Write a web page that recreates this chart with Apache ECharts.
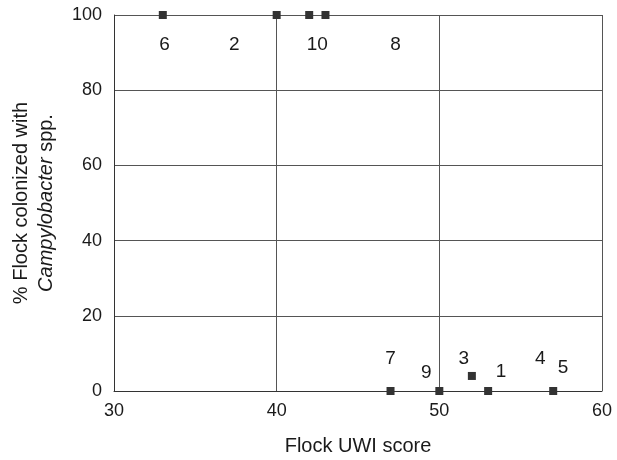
<!DOCTYPE html>
<html>
<head>
<meta charset="utf-8">
<script src="https://cdn.jsdelivr.net/npm/echarts@6/dist/echarts.min.js"></script>
<style>
  html, body { margin: 0; padding: 0; background: #fff; }
  #chart { width: 617px; height: 460px; }
</style>
</head>
<body>
<div id="chart"></div>
<script>
// flock UWI score vs % colonized
var uwiScore = [33, 40, 42, 43, 47, 50, 52, 53, 57];
var colonized = [100, 100, 100, 100, 0, 0, 4, 0, 0];

// flock number labels: [x, y, text] in data units
var flockLabels = [
  [33.1, 92, '6'], [37.4, 92, '2'], [42.5, 92, '10'], [47.3, 92, '8'],
  [47.0, 8.5, '7'], [49.2, 4.8, '9'], [51.5, 8.5, '3'], [53.8, 5, '1'],
  [56.2, 8.5, '4'], [57.6, 6.1, '5']
];

var xTicks = [30, 40, 50, 60];
var yTicks = [0, 20, 40, 60, 80, 100];

(function(){
  var myChart = echarts.init(document.getElementById('chart'));
  var font = '"Liberation Sans", Arial, sans-serif';
  var points = uwiScore.map(function (x, i) { return [x, colonized[i]]; });
  var option = {
    animation: false,
    textStyle: { fontFamily: font },
    grid: { left: 114, right: 15, top: 15, bottom: 69, outerBoundsMode: 'none' },
    xAxis: {
      type: 'value',
      min: xTicks[0],
      max: xTicks[xTicks.length - 1],
      interval: 10,
      name: 'Flock UWI score',
      nameLocation: 'middle',
      nameGap: 45,
      nameTextStyle: { fontSize: 20, color: '#1a1a1a', fontFamily: font },
      axisLine: { show: true, lineStyle: { color: '#333', width: 1 } },
      axisTick: { show: false },
      axisLabel: { fontSize: 18, color: '#1a1a1a', margin: 11, fontFamily: font },
      splitLine: { show: true, lineStyle: { color: '#555', width: 1 } }
    },
    yAxis: {
      type: 'value',
      min: yTicks[0],
      max: yTicks[yTicks.length - 1],
      interval: 20,
      name: '{a|% Flock colonized with}\n{i|Campylobacter}{a| spp.}',
      nameLocation: 'middle',
      nameRotate: 90,
      nameGap: 55,
      nameTextStyle: {
        fontFamily: font,
        rich: {
          a: { fontSize: 20, color: '#1a1a1a', lineHeight: 25, fontFamily: font },
          i: { fontSize: 20, color: '#1a1a1a', lineHeight: 25, fontStyle: 'italic', fontFamily: font }
        }
      },
      axisLine: { show: true, lineStyle: { color: '#333', width: 1 } },
      axisTick: { show: false },
      axisLabel: { fontSize: 18, color: '#1a1a1a', margin: 12, fontFamily: font },
      splitLine: { show: true, lineStyle: { color: '#555', width: 1 } }
    },
    series: [
      {
        type: 'scatter',
        data: points,
        symbol: 'rect',
        symbolSize: 8,
        itemStyle: { color: '#333', opacity: 1 },
        clip: false,
        z: 3
      },
      {
        type: 'scatter',
        data: flockLabels.map(function (d) { return { value: [d[0], d[1]], name: d[2] }; }),
        symbolSize: 0,
        silent: true,
        itemStyle: { opacity: 1 },
        label: {
          show: true,
          position: 'inside',
          formatter: '{b}',
          fontSize: 19,
          color: '#1a1a1a',
          fontFamily: font
        }
      }
    ]
  };
  myChart.setOption(option);
  window.addEventListener('resize', function() {
    myChart.resize();
  });
})();
</script>
</body>
</html>
